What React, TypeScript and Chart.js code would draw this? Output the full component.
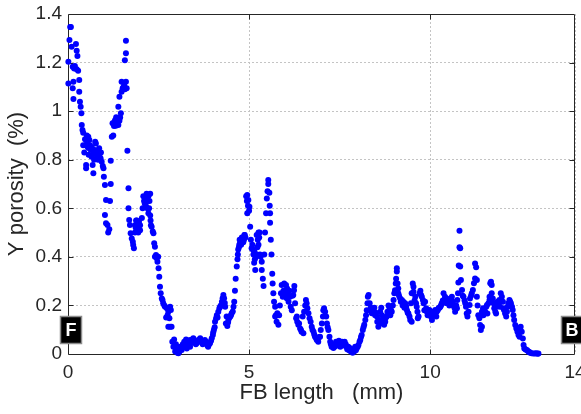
import { useEffect, useRef } from "react";
import { Chart, registerables } from "chart.js";

Chart.register(...registerables);

// FB length (mm) and Y porosity (%) readings, one pair of lists per stretch of the profile.
const frontLength = [
  0.01, 0.01, 0.04, 0.06, 0.08, 0.10, 0.13, 0.13, 0.15, 0.15,
  0.17, 0.19, 0.22, 0.24, 0.24, 0.26, 0.28, 0.31, 0.31, 0.33,
  0.35, 0.37, 0.38, 0.40, 0.42, 0.42, 0.47, 0.50, 0.50, 0.52,
  0.53, 0.56, 0.59, 0.59, 0.63, 0.65, 0.68, 0.70, 0.70, 0.75,
  0.77, 0.79, 0.81, 0.84, 0.86, 0.88, 0.90, 0.93, 0.96, 0.98,
  0.99, 1.02, 1.02, 1.05, 1.05, 1.09, 1.11, 1.14, 1.16, 1.18,
  1.18, 1.21, 1.23, 1.25, 1.27, 1.30, 1.34, 1.36, 1.39, 1.39,
  1.42, 1.42, 1.44, 1.46, 1.48, 1.48, 1.51, 1.53, 1.55, 1.57,
  1.57, 1.60, 1.60, 1.60, 1.62, 1.64, 1.67, 1.67, 1.69, 1.71,
  1.73, 1.76, 1.79, 1.80, 1.82, 1.85, 1.85, 1.88, 1.90, 1.90,
  1.94, 1.94, 1.96, 1.99, 1.99, 2.04, 2.06, 2.08, 2.10, 2.13,
  2.15, 2.17, 2.19, 2.22, 2.22, 2.25, 2.27, 2.27, 2.28, 2.31,
  2.34, 2.36, 2.38, 2.40, 2.40, 2.43, 2.45, 2.47, 2.49, 2.50,
  2.52, 2.54, 2.56, 2.59, 2.61, 2.63, 2.66, 2.68, 2.71, 2.73,
  2.75, 2.77, 2.77, 2.80, 2.82, 2.82, 2.84, 2.86,
  0.45, 0.48, 0.55, 0.57, 0.61, 0.66, 0.72, 0.74, 0.83, 0.91,
  1.28, 1.32, 1.37, 1.33, 1.87, 1.92, 2.12, 2.20, 2.24, 2.29,
];
const frontPorosity = [
  1.114, 1.203, 1.293, 1.346, 1.346, 1.265, 1.183, 1.094, 1.121, 1.05,
  1.176, 1.186, 1.276, 1.249, 1.172, 1.227, 1.166, 1.128, 1.08, 1.039,
  1.018, 0.991, 0.943, 0.922, 0.911, 0.86, 0.884, 0.778, 0.765, 0.90,
  0.87, 0.895, 0.881, 0.847, 0.84, 0.812, 0.778, 0.744, 0.823, 0.874,
  0.867, 0.833, 0.812, 0.833, 0.847, 0.826, 0.806, 0.792, 0.774, 0.765,
  0.73, 0.696, 0.572, 0.634, 0.538, 0.531, 0.50, 0.514, 0.63, 0.70,
  0.796, 0.895, 0.95, 0.90, 0.939, 0.963, 0.952, 0.97, 0.943, 1.018,
  0.96, 1.059, 0.974, 0.991, 1.08, 1.121, 1.094, 1.098, 1.107, 1.09,
  1.21, 1.121, 1.238, 1.29, 1.094, 0.837, 0.682, 0.60, 0.552, 0.531,
  0.497, 0.476, 0.462, 0.449, 0.435, 0.53, 0.50, 0.55, 0.51, 0.55,
  0.53, 0.50, 0.545, 0.51, 0.53, 0.56, 0.60, 0.65, 0.63, 0.64,
  0.61, 0.66, 0.60, 0.65, 0.58, 0.63, 0.66, 0.57, 0.55, 0.524,
  0.504, 0.497, 0.456, 0.442, 0.40, 0.408, 0.394, 0.38, 0.40, 0.353,
  0.318, 0.277, 0.25, 0.229, 0.222, 0.209, 0.20, 0.195, 0.15, 0.188,
  0.16, 0.174, 0.112, 0.147, 0.195, 0.112, 0.181, 0.112,
  0.83, 0.86, 0.85, 0.82, 0.86, 0.85, 0.80, 0.84, 0.80, 0.83,
  0.955, 0.94, 0.96, 0.975, 0.52, 0.535, 0.62, 0.63, 0.60, 0.53,
];

const troughLength = [
  2.88, 2.91, 2.93, 2.96, 2.98, 3.00, 3.02, 3.05, 3.08, 3.10,
  3.14, 3.17, 3.19, 3.21, 3.23, 3.26, 3.28, 3.30, 3.33, 3.37,
  3.37, 3.40, 3.43, 3.46, 3.48, 3.51, 3.53, 3.55, 3.58, 3.60,
  3.62, 3.65, 3.67, 3.69, 3.72, 3.74, 3.76, 3.78, 3.81, 3.83,
  3.85, 3.87, 3.90, 3.92, 3.95, 3.97, 4.00, 4.01, 4.03, 4.05,
  4.06, 4.09, 4.11, 4.13, 4.15, 4.18, 4.20, 4.22, 4.25, 4.27,
  4.29, 4.31, 4.33, 4.34, 4.36, 4.38, 4.40, 4.42, 4.43, 4.46,
  4.48, 4.50, 4.52, 4.55, 4.57, 4.59,
];
const troughPorosity = [
  0.05, 0.03, 0.06, 0.01, 0.04, 0.02, 0.005, 0.003, 0.01, 0.03,
  0.016, 0.04, 0.03, 0.05, 0.044, 0.06, 0.023, 0.04, 0.05, 0.03,
  0.058, 0.045, 0.06, 0.065, 0.05, 0.05, 0.04, 0.044, 0.055, 0.058,
  0.05, 0.065, 0.055, 0.05, 0.04, 0.044, 0.05, 0.058, 0.05, 0.044,
  0.035, 0.03, 0.04, 0.044, 0.055, 0.065, 0.078, 0.09, 0.10, 0.11,
  0.133, 0.147, 0.16, 0.15, 0.174, 0.188, 0.195, 0.20, 0.215, 0.23,
  0.243, 0.23, 0.21, 0.195, 0.126, 0.154, 0.115, 0.13, 0.14, 0.15,
  0.154, 0.16, 0.168, 0.175, 0.195, 0.215,
];

const middleLength = [
  4.61, 4.63, 4.66, 4.68, 4.69, 4.70, 4.72, 4.73, 4.75, 4.77,
  4.79, 4.81, 4.83, 4.85, 4.86, 4.88, 4.90, 4.92, 4.94, 4.95,
  4.95, 4.97, 4.98, 5.00, 5.01, 5.03, 5.05, 5.07, 5.09, 5.12,
  5.14, 5.15, 5.17, 5.19, 5.21, 5.21, 5.23, 5.26, 5.26, 5.28,
  5.29, 5.30, 5.32, 5.35, 5.35, 5.38, 5.40, 5.42, 5.44, 5.47,
  5.49, 5.51, 5.53, 5.53, 5.56, 5.57, 5.58, 5.58, 5.60, 5.62,
  5.64, 5.65, 5.67, 5.69, 5.72, 5.72, 5.74, 5.76, 5.78, 5.81,
  5.83, 5.85, 5.88, 5.90, 5.93, 5.95, 5.97, 6.00, 6.02, 6.04,
  6.07, 6.09, 6.11, 6.13, 6.15, 6.18, 6.20, 6.22, 6.24, 6.25,
  6.27, 6.30, 6.32, 6.33, 6.36, 6.38, 6.41, 6.43, 6.45, 6.48,
  6.50, 6.52, 6.55, 6.57, 6.59, 6.61, 6.64, 6.67, 6.70, 6.73,
  6.75, 6.78, 6.80, 6.82, 6.85, 6.87, 6.89, 6.91, 6.94, 6.96,
  6.98, 7.01, 7.04, 7.05, 7.07, 7.10, 7.13, 7.15, 7.17, 7.19,
  7.22, 7.24, 7.26, 7.28, 7.31, 7.33, 7.36, 7.38, 7.40, 7.43,
  7.45, 7.48, 7.50, 7.52, 7.55, 7.57, 7.60, 7.62, 7.64, 7.67,
  7.69, 7.71, 7.74, 7.76, 7.78, 7.81, 7.83, 7.86, 7.88, 7.90,
  7.93, 7.95, 7.97, 8.00, 8.02, 8.05, 8.07, 8.09, 8.11, 8.14,
  8.16, 8.18, 8.21, 8.23, 8.25, 8.27, 8.28, 8.30,
  4.74, 4.78, 4.80, 4.84, 4.87, 5.10, 5.16, 5.24, 5.97, 6.05,
];
const middlePorosity = [
  0.26, 0.31, 0.36, 0.39, 0.41, 0.43, 0.44, 0.45, 0.455, 0.46,
  0.47, 0.46, 0.47, 0.48, 0.47, 0.49, 0.48, 0.65, 0.63, 0.655,
  0.58, 0.61, 0.634, 0.59, 0.606, 0.524, 0.47, 0.435, 0.45, 0.41,
  0.376, 0.42, 0.346, 0.40, 0.41, 0.49, 0.44, 0.45, 0.50, 0.48,
  0.50, 0.41, 0.40, 0.38, 0.346, 0.31, 0.28, 0.41, 0.50, 0.58,
  0.64, 0.67, 0.70, 0.716, 0.664, 0.61, 0.58, 0.54, 0.47, 0.41,
  0.33, 0.29, 0.25, 0.215, 0.195, 0.154, 0.16, 0.133, 0.168, 0.12,
  0.16, 0.20, 0.25, 0.284, 0.236, 0.26, 0.29, 0.263, 0.284, 0.23,
  0.25, 0.215, 0.26, 0.236, 0.195, 0.18, 0.24, 0.243, 0.263, 0.28,
  0.209, 0.147, 0.154, 0.133, 0.12, 0.126, 0.105, 0.10, 0.092, 0.154,
  0.085, 0.174, 0.20, 0.222, 0.209, 0.188, 0.168, 0.147, 0.133, 0.112,
  0.10, 0.092, 0.08, 0.071, 0.065, 0.058, 0.06, 0.05, 0.07, 0.071,
  0.099, 0.126, 0.154, 0.18, 0.188, 0.174, 0.154, 0.126, 0.11, 0.099,
  0.071, 0.05, 0.04, 0.03, 0.035, 0.025, 0.03, 0.04, 0.05, 0.035,
  0.045, 0.055, 0.04, 0.03, 0.045, 0.05, 0.04, 0.035, 0.05, 0.04,
  0.03, 0.02, 0.03, 0.015, 0.025, 0.01, 0.02, 0.005, 0.02, 0.01,
  0.03, 0.015, 0.023, 0.03, 0.037, 0.05, 0.058, 0.07, 0.078, 0.099,
  0.11, 0.12, 0.14, 0.16, 0.18, 0.209, 0.236, 0.243,
  0.47, 0.45, 0.48, 0.46, 0.49, 0.43, 0.39, 0.47, 0.24, 0.27,
];

const backLength = [
  8.33, 8.34, 8.36, 8.39, 8.41, 8.43, 8.46, 8.48, 8.50, 8.53,
  8.54, 8.57, 8.59, 8.60, 8.62, 8.65, 8.67, 8.69, 8.71, 8.73,
  8.76, 8.78, 8.80, 8.82, 8.85, 8.88, 8.90, 8.92, 8.94, 8.97,
  8.99, 9.01, 9.03, 9.05, 9.06, 9.08, 9.08, 9.10, 9.12, 9.12,
  9.14, 9.17, 9.19, 9.22, 9.24, 9.26, 9.29, 9.31, 9.34, 9.36,
  9.38, 9.40, 9.43, 9.45, 9.47, 9.49, 9.49, 9.52, 9.54, 9.54,
  9.57, 9.59, 9.61, 9.63, 9.65, 9.66, 9.68, 9.71, 9.73, 9.75,
  9.77, 9.80, 9.82, 9.84, 9.86, 9.89, 9.91, 9.93, 9.95, 9.98,
  10.00, 10.02, 10.05, 10.07, 10.09, 10.12, 10.14, 10.17, 10.18, 10.21,
  10.23, 10.26, 10.28, 10.30, 10.32, 10.35, 10.37, 10.39, 10.41, 10.44,
  10.46, 10.48, 10.51, 10.53, 10.55, 10.57, 10.60, 10.63, 10.64, 10.67,
  10.69, 10.69, 10.72, 10.74, 10.75, 10.77, 10.78, 10.79, 10.81, 10.81,
  10.83, 10.83, 10.85, 10.88, 10.90, 10.92, 10.95, 10.97, 10.99, 11.01,
  11.03, 11.06, 11.09, 11.10, 11.13, 11.15, 11.18, 11.21, 11.24, 11.24,
  11.27, 11.29, 11.29, 11.31, 11.33, 11.36, 11.38, 11.40, 11.43, 11.43,
  11.46, 11.47, 11.49, 11.52, 11.55, 11.57, 11.58, 11.61, 11.64, 11.64,
  11.66, 11.68, 11.70, 11.70, 11.73, 11.75, 11.77, 11.80, 11.82, 11.84,
  11.86, 11.89, 11.91, 11.93, 11.95, 11.98, 12.01, 12.02, 12.04, 12.07,
  12.10, 12.12, 12.14, 12.16, 12.19, 12.21, 12.23, 12.26, 12.28, 12.30,
  12.32, 12.35, 12.38, 12.41, 12.44, 12.47, 12.49, 12.50, 12.53, 12.56,
  12.58, 12.60, 12.63, 12.65, 12.68, 12.71, 12.74, 12.76, 12.80, 12.85,
  12.90, 12.93, 12.97, 12.99,
];
const backPorosity = [
  0.209, 0.18, 0.19, 0.168, 0.18, 0.174, 0.19, 0.16, 0.17, 0.154,
  0.133, 0.112, 0.13, 0.14, 0.174, 0.19, 0.16, 0.126, 0.14, 0.12,
  0.133, 0.15, 0.154, 0.174, 0.20, 0.188, 0.16, 0.18, 0.174, 0.20,
  0.222, 0.25, 0.263, 0.29, 0.31, 0.34, 0.353, 0.29, 0.27, 0.25,
  0.24, 0.23, 0.215, 0.222, 0.20, 0.215, 0.19, 0.209, 0.195, 0.18,
  0.17, 0.167, 0.154, 0.14, 0.209, 0.25, 0.133, 0.29, 0.277, 0.256,
  0.22, 0.236, 0.209, 0.195, 0.174, 0.147, 0.154, 0.25, 0.26, 0.243,
  0.236, 0.222, 0.209, 0.18, 0.215, 0.188, 0.174, 0.16, 0.174, 0.181,
  0.167, 0.154, 0.14, 0.16, 0.174, 0.17, 0.181, 0.154, 0.174, 0.18,
  0.188, 0.19, 0.195, 0.20, 0.209, 0.22, 0.25, 0.222, 0.236, 0.21,
  0.229, 0.209, 0.215, 0.20, 0.202, 0.222, 0.236, 0.215, 0.202, 0.19,
  0.195, 0.174, 0.20, 0.188, 0.222, 0.25, 0.294, 0.364, 0.44, 0.508,
  0.435, 0.36, 0.305, 0.264, 0.24, 0.236, 0.22, 0.209, 0.195, 0.167,
  0.154, 0.174, 0.202, 0.229, 0.24, 0.25, 0.264, 0.291, 0.311, 0.373,
  0.357, 0.305, 0.236, 0.20, 0.16, 0.147, 0.119, 0.099, 0.112, 0.174,
  0.188, 0.16, 0.181, 0.174, 0.195, 0.202, 0.167, 0.209, 0.222, 0.236,
  0.291, 0.298, 0.284, 0.25, 0.229, 0.209, 0.188, 0.174, 0.167, 0.195,
  0.215, 0.209, 0.222, 0.195, 0.25, 0.236, 0.215, 0.188, 0.181, 0.167,
  0.154, 0.174, 0.195, 0.209, 0.222, 0.215, 0.209, 0.195, 0.181, 0.16,
  0.14, 0.119, 0.105, 0.092, 0.078, 0.071, 0.099, 0.112, 0.092, 0.064,
  0.037, 0.023, 0.02, 0.017, 0.015, 0.01, 0.008, 0.005, 0.003, 0.002,
  0.002, 0.003, 0.001, 0.002,
];

const xTicks = [0, 5, 10, 14];
const yTicks = [0, 0.2, 0.4, 0.6, 0.8, 1, 1.2, 1.4];

// Front / back end tags along the bottom of the plot
const endTags = [
  { label: "F", at: 0.07 },
  { label: "B", at: 13.9 },
];
const endTagLevel = 0.1;

const FONT = "'Liberation Sans', Arial, Helvetica, sans-serif";
const INK = "#262626";
const GRID = "#c4c4c4";
const DOT = "#0000ff";

function pairUp(xs: number[], ys: number[]) {
  return xs.map((x, i) => ({ x, y: ys[i] }));
}

const frameAndTags = {
  id: "frameAndTags",
  beforeDatasetsDraw(chart: any) {
    const { ctx, chartArea: a, scales } = chart;
    const l = Math.round(a.left) + 0.5;
    const r = Math.round(a.right) - 0.5;
    const t = Math.round(a.top) + 0.5;
    const b = Math.round(a.bottom) + 0.5;
    ctx.save();
    ctx.setLineDash([]);
    ctx.strokeStyle = INK;
    ctx.lineWidth = 1;
    ctx.beginPath();
    ctx.moveTo(l, t);
    ctx.lineTo(r, t);
    ctx.lineTo(r, b);
    ctx.lineTo(l, b);
    ctx.closePath();
    const len = 5;
    for (const v of xTicks.slice(1, -1)) {
      const px = Math.round(scales.x.getPixelForValue(v)) + 0.5;
      ctx.moveTo(px, b);
      ctx.lineTo(px, b - len);
      ctx.moveTo(px, t);
      ctx.lineTo(px, t + len);
    }
    for (const v of yTicks.slice(1, -1)) {
      const py = Math.round(scales.y.getPixelForValue(v)) + 0.5;
      ctx.moveTo(l, py);
      ctx.lineTo(l + len, py);
      ctx.moveTo(r, py);
      ctx.lineTo(r - len, py);
    }
    ctx.stroke();
    ctx.restore();
  },
  afterDatasetsDraw(chart: any) {
    const { ctx, scales } = chart;
    const w = 21;
    const h = 27;
    ctx.save();
    for (const tag of endTags) {
      const cx = scales.x.getPixelForValue(tag.at);
      const cy = scales.y.getPixelForValue(endTagLevel);
      const x0 = Math.round(cx - w / 2) + 0.5;
      const y0 = Math.round(cy - h / 2) + 0.5;
      ctx.fillStyle = "#000000";
      ctx.fillRect(x0, y0, w, h);
      ctx.strokeStyle = "#8c8c8c";
      ctx.lineWidth = 1.5;
      ctx.strokeRect(x0, y0, w, h);
      ctx.fillStyle = "#ffffff";
      ctx.font = `bold 18px ${FONT}`;
      ctx.textAlign = "center";
      ctx.textBaseline = "middle";
      ctx.fillText(tag.label, x0 + w / 2, y0 + h / 2 + 1);
    }
    ctx.restore();
  },
};

export default function App() {
  const canvasRef = useRef<HTMLCanvasElement | null>(null);

  useEffect(() => {
    const canvas = canvasRef.current;
    if (!canvas) return;
    const points = [
      ...pairUp(frontLength, frontPorosity),
      ...pairUp(troughLength, troughPorosity),
      ...pairUp(middleLength, middlePorosity),
      ...pairUp(backLength, backPorosity),
    ];
    const chart = new Chart(canvas, {
      type: "scatter",
      data: {
        datasets: [
          {
            label: "Y porosity",
            data: points,
            pointRadius: 3,
            pointHoverRadius: 3,
            pointBorderWidth: 0,
            pointBackgroundColor: DOT,
            pointBorderColor: DOT,
            clip: false,
          } as any,
        ],
      },
      options: {
        responsive: false,
        animation: false,
        devicePixelRatio: 1,
        layout: { padding: { top: 14, right: 6, left: 0, bottom: 0 } },
        plugins: {
          legend: { display: false },
          tooltip: { enabled: false },
        },
        scales: {
          x: {
            type: "linear",
            min: 0,
            max: 14,
            afterBuildTicks: (s: any) => {
              s.ticks = xTicks.map((value) => ({ value }));
            },
            afterFit: (s: any) => {
              s.height = 60;
              s.paddingLeft = 0;
              s.paddingRight = 0;
            },
            ticks: {
              autoSkip: false,
              maxRotation: 0,
              padding: 7,
              color: INK,
              font: { family: FONT, size: 19 },
              callback: (v: any) => String(v),
            },
            grid: { color: GRID, lineWidth: 1, drawTicks: false },
            border: { display: false, dash: [2, 2] },
            title: {
              display: true,
              text: "FB length   (mm)",
              color: INK,
              font: { family: FONT, size: 22, lineHeight: 1 },
              padding: { top: 0, bottom: 10 },
            },
          },
          y: {
            type: "linear",
            min: 0,
            max: 1.4,
            afterBuildTicks: (s: any) => {
              s.ticks = yTicks.map((value) => ({ value }));
            },
            afterFit: (s: any) => {
              s.width = 68;
              s.paddingTop = 0;
              s.paddingBottom = 0;
            },
            ticks: {
              autoSkip: false,
              padding: 6,
              color: INK,
              font: { family: FONT, size: 19 },
              callback: (v: any) => String(v),
            },
            grid: { color: GRID, lineWidth: 1, drawTicks: false },
            border: { display: false, dash: [2, 2] },
            title: {
              display: true,
              text: "Y porosity  (%)",
              color: INK,
              font: { family: FONT, size: 22, lineHeight: 1 },
              padding: { top: 6, bottom: 0 },
            },
          },
        },
      },
      plugins: [frameAndTags],
    });
    return () => chart.destroy();
  }, []);

  return (
    <div style={{ position: "absolute", left: 0, top: 0, width: 581, height: 414, background: "#ffffff" }}>
      <canvas ref={canvasRef} width={581} height={414} style={{ display: "block" }} />
    </div>
  );
}
